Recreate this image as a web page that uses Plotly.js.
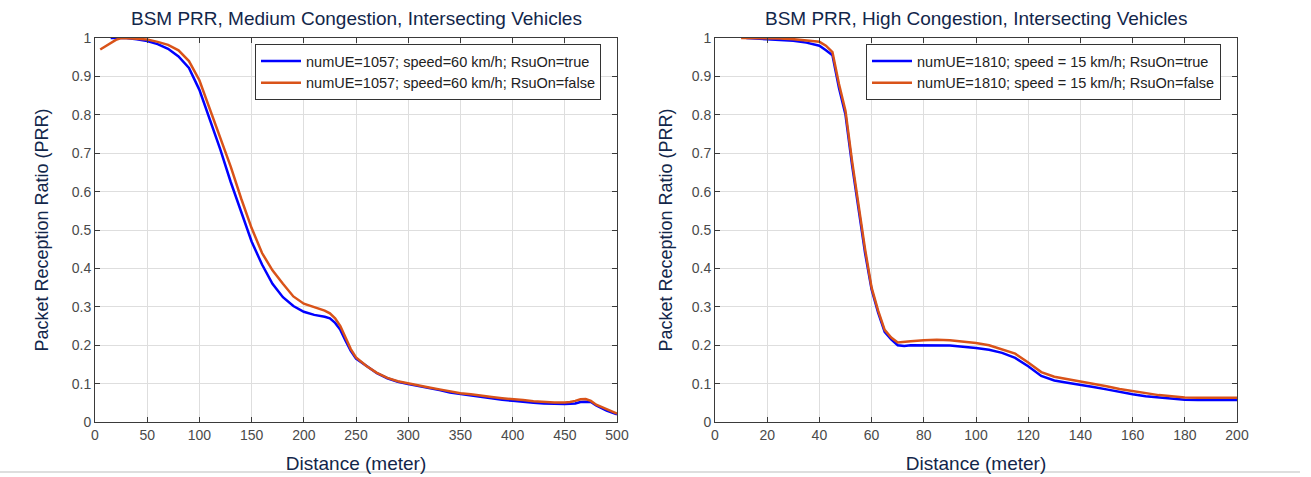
<!DOCTYPE html>
<html>
<head>
<meta charset="utf-8">
<script src="https://cdn.plot.ly/plotly-3.0.1.min.js"></script>
<style>html,body{margin:0;padding:0;background:#fff;}#chart{width:1311px;height:477px;}</style>
</head>
<body>
<div id="chart"></div>
<script>
// ---- Left chart: Medium congestion ----
const medTrueX = [15,20,30,40,50,60,70,80,90,100,110,120,130,140,150,160,170,180,190,200,210,220,225,230,235,240,245,250,260,270,280,290,300,310,320,330,340,350,360,370,380,390,400,410,420,430,440,450,460,465,470,475,480,490,500];
const medTrueY = [1.0,1.0,1.0,0.997,0.992,0.984,0.972,0.952,0.922,0.865,0.79,0.71,0.625,0.545,0.47,0.41,0.36,0.325,0.302,0.287,0.279,0.274,0.27,0.258,0.24,0.212,0.185,0.165,0.145,0.127,0.114,0.105,0.099,0.094,0.089,0.083,0.077,0.073,0.07,0.066,0.062,0.058,0.055,0.052,0.05,0.048,0.047,0.047,0.048,0.052,0.053,0.052,0.043,0.03,0.02];
const medFalseX = [5,10,15,20,25,30,35,40,50,60,70,80,90,100,110,120,130,140,150,160,170,180,190,200,210,220,225,230,235,240,245,250,260,270,280,290,300,310,320,330,340,350,360,370,380,390,400,410,420,430,440,450,455,460,465,470,475,480,490,500];
const medFalseY = [0.97,0.978,0.987,0.995,1.0,1.0,0.999,0.998,0.996,0.99,0.982,0.968,0.94,0.89,0.815,0.745,0.665,0.582,0.505,0.44,0.395,0.36,0.327,0.308,0.3,0.29,0.283,0.27,0.25,0.22,0.19,0.168,0.146,0.128,0.115,0.106,0.1,0.095,0.09,0.085,0.079,0.075,0.072,0.068,0.065,0.062,0.06,0.057,0.054,0.052,0.051,0.051,0.052,0.055,0.059,0.06,0.055,0.045,0.033,0.022];

// ---- Right chart: High congestion ----
const highTrueX = [12,15,20,25,30,35,40,42.5,45,47.5,50,52.5,55,57.5,60,62.5,65,67.5,70,72.5,75,80,85,90,95,100,105,110,115,120,125,130,135,140,145,150,155,160,165,170,175,180,185,190,195,200];
const highTrueY = [1.0,0.999,0.997,0.995,0.993,0.988,0.98,0.968,0.955,0.87,0.8,0.67,0.55,0.44,0.345,0.285,0.235,0.215,0.2,0.198,0.2,0.2,0.2,0.199,0.196,0.193,0.188,0.18,0.167,0.145,0.12,0.108,0.102,0.097,0.091,0.085,0.078,0.072,0.067,0.064,0.061,0.058,0.057,0.057,0.057,0.057];
const highFalseX = [10,15,20,25,30,35,40,42.5,45,47.5,50,52.5,55,57.5,60,62.5,65,67.5,70,72.5,75,80,85,90,95,100,105,110,115,120,125,130,135,140,145,150,155,160,165,170,175,180,185,190,195,200];
const highFalseY = [1.0,1.0,1.0,0.999,0.997,0.994,0.99,0.98,0.963,0.88,0.81,0.68,0.56,0.45,0.35,0.29,0.24,0.22,0.207,0.208,0.21,0.213,0.214,0.213,0.21,0.206,0.2,0.19,0.178,0.155,0.13,0.118,0.112,0.106,0.1,0.093,0.086,0.08,0.075,0.07,0.067,0.064,0.063,0.063,0.063,0.063];

const medNames = ["numUE=1057; speed=60 km/h; RsuOn=true", "numUE=1057; speed=60 km/h; RsuOn=false"];
const highNames = ["numUE=1810; speed = 15 km/h; RsuOn=true", "numUE=1810; speed = 15 km/h; RsuOn=false"];
const titles = ["BSM PRR, Medium Congestion, Intersecting Vehicles", "BSM PRR, High Congestion, Intersecting Vehicles"];
const xTitle = "Distance (meter)";
const yTitle = "Packet Reception Ratio (PRR)";

const BLUE = "#0000ff", ORANGE = "#d95319";
const FONT = "Liberation Sans, Arial, sans-serif";
const NAVY = "#12264a";

const traces = [
  {x: medTrueX, y: medTrueY, name: medNames[0], type: "scatter", mode: "lines", line: {color: BLUE, width: 2.5}, xaxis: "x", yaxis: "y", legend: "legend"},
  {x: medFalseX, y: medFalseY, name: medNames[1], type: "scatter", mode: "lines", line: {color: ORANGE, width: 2.5}, xaxis: "x", yaxis: "y", legend: "legend"},
  {x: highTrueX, y: highTrueY, name: highNames[0], type: "scatter", mode: "lines", line: {color: BLUE, width: 2.5}, xaxis: "x2", yaxis: "y2", legend: "legend2"},
  {x: highFalseX, y: highFalseY, name: highNames[1], type: "scatter", mode: "lines", line: {color: ORANGE, width: 2.5}, xaxis: "x2", yaxis: "y2", legend: "legend2"}
];

const L = 95, R = 74, T = 38, B = 55, W = 1311, H = 477;
const PW = W - L - R;
function dx(px) { return (px - L) / PW; }

const axCommon = {
  showline: true, mirror: "ticks", linecolor: "#3a3a3a", linewidth: 1,
  ticks: "inside", ticklen: 5, tickcolor: "#3a3a3a",
  showgrid: true, gridcolor: "#dedede", gridwidth: 1, zeroline: false,
  tickfont: {family: FONT, size: 14, color: "#4a4a4a"},
  automargin: false
};

const legendCommon = {
  xanchor: "left", yanchor: "top", bgcolor: "#ffffff", bordercolor: "#333333", borderwidth: 1,
  font: {family: FONT, size: 14.5, color: "#222222"}, tracegroupgap: 0, itemwidth: 40
};

const layout = {
  width: W, height: H,
  margin: {l: L, r: R, t: T, b: B},
  paper_bgcolor: "#ffffff", plot_bgcolor: "#ffffff",
  showlegend: true,
  xaxis: Object.assign({}, axCommon, {domain: [0, dx(617)], range: [0, 500], dtick: 50, anchor: "y",
    title: {text: xTitle, font: {family: FONT, size: 19, color: NAVY}, standoff: 14}}),
  yaxis: Object.assign({}, axCommon, {domain: [0, 1], range: [0, 1], dtick: 0.1, anchor: "x",
    title: {text: yTitle, font: {family: FONT, size: 18, color: NAVY}, standoff: 18}}),
  xaxis2: Object.assign({}, axCommon, {domain: [dx(715), 1], range: [0, 200], dtick: 20, anchor: "y2",
    title: {text: xTitle, font: {family: FONT, size: 19, color: NAVY}, standoff: 14}}),
  yaxis2: Object.assign({}, axCommon, {domain: [0, 1], range: [0, 1], dtick: 0.1, anchor: "x2",
    title: {text: yTitle, font: {family: FONT, size: 18, color: NAVY}, standoff: 14}}),
  legend: Object.assign({}, legendCommon, {x: dx(255), y: 1 - (44 - T) / (H - T - B)}),
  legend2: Object.assign({}, legendCommon, {x: dx(866), y: 1 - (44 - T) / (H - T - B)}),
  annotations: [
    {text: titles[0], xref: "paper", yref: "paper", x: (dx(95) + dx(617)) / 2, y: 1 + (T - 18) / (H - T - B), xanchor: "center", yanchor: "middle", showarrow: false, font: {family: FONT, size: 19, color: NAVY}},
    {text: titles[1], xref: "paper", yref: "paper", x: (dx(715) + 1) / 2, y: 1 + (T - 18) / (H - T - B), xanchor: "center", yanchor: "middle", showarrow: false, font: {family: FONT, size: 19, color: NAVY}}
  ],
  shapes: [
    {type: "line", xref: "paper", yref: "paper", x0: -L / PW, x1: (1300 - L) / PW, y0: -(472 - (H - B)) / (H - T - B), y1: -(472 - (H - B)) / (H - T - B), line: {color: "#bdbdbd", width: 1}}
  ]
};

Plotly.newPlot("chart", traces, layout, {displayModeBar: false, staticPlot: true});
</script>
</body>
</html>
